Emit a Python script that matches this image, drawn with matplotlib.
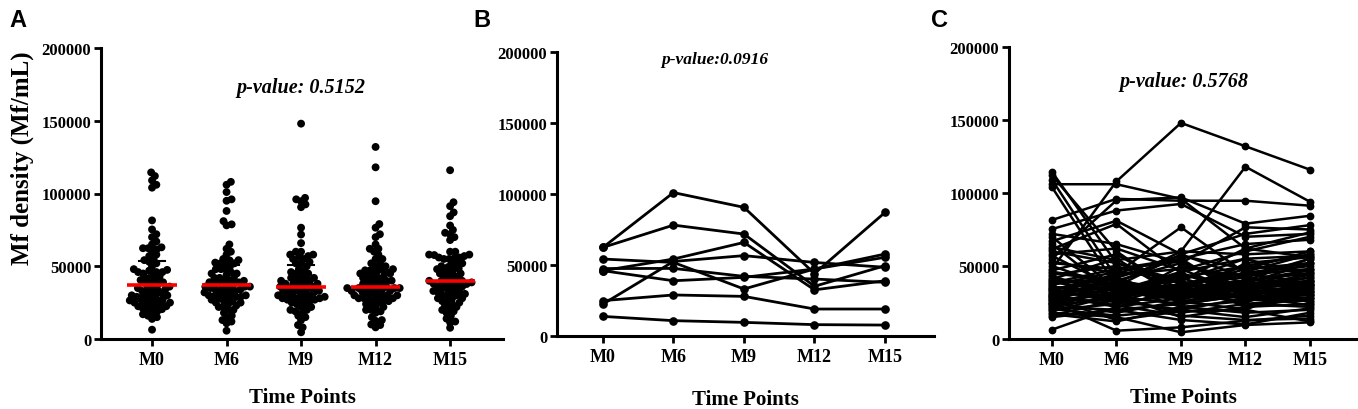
import numpy as np
import matplotlib
matplotlib.use("Agg")
import matplotlib.pyplot as plt

plt.rcParams['font.family'] = ['Liberation Serif', 'DejaVu Serif']
plt.rcParams['font.weight'] = 'bold'

categories = ["M0", "M6", "M9", "M12", "M15"]
ytick_values = [0, 50000, 100000, 150000, 200000]
ytick_labels = ["0", "50000", "100000", "150000", "200000"]

# Panel B: one entry per subject at each time point
b_m0 = [62400, 62400, 54200, 46000, 46000, 22500, 24900, 13800, 47500]
b_m6 = [101000, 78100, 51800, 54200, 38900, 52500, 28900, 10800, 47600]
b_m9 = [90600, 71800, 33100, 65900, 41300, 56600, 27900, 9600, 42000]
b_m12 = [44000, 35000, 47200, 32500, 47200, 51800, 19000, 8000, 40100]
b_m15 = [87000, 49500, 55400, 38900, 57700, 48400, 19000, 7700, 37800]

# Panel C: one entry per subject at each time point
c_m0 = [48000, 106000, 114500, 112000, 109000, 104000, 81500, 75300, 67000, 30000,
        40000, 61600, 55000, 6400, 25000, 18000, 72000, 63000, 58000, 52000,
        50000, 47000, 45000, 43000, 41000, 39000, 38000, 36000, 35000, 34000,
        33000, 32000, 31000, 30000, 29000, 28000, 27000, 26000, 25000, 24000,
        23000, 22000, 21000, 20000, 19000, 17000, 16000, 15000, 44000, 37000,
        33500, 28500, 26500, 24500, 22500, 20500, 31500, 35500, 40500, 46000,
        53000, 57000, 60000, 65000, 70000, 29500, 27500, 42000, 38500, 34500]
c_m6 = [108000, 106000, 52000, 60000, 42000, 36000, 96000, 88000, 81000, 45000,
        38000, 78800, 95000, 22000, 5700, 15000, 65000, 54000, 62000, 48000,
        35000, 58000, 40000, 30000, 55000, 33000, 42000, 28000, 38000, 25000,
        44000, 36000, 30000, 22000, 34000, 40000, 26000, 32000, 18000, 35000,
        28000, 20000, 37000, 24000, 30000, 12000, 27000, 20000, 50000, 46000,
        26000, 42000, 38000, 32000, 29000, 16000, 36000, 31000, 25000, 40000,
        45000, 35000, 52000, 30000, 34000, 23000, 13000, 33000, 48000, 39000]
c_m9 = [148000, 96000, 38000, 30000, 55000, 58000, 94700, 92500, 58000, 76500,
        60000, 45000, 97000, 35000, 8000, 4600, 52000, 60000, 47000, 55000,
        40000, 33000, 52000, 36000, 28000, 42000, 25000, 38000, 32000, 30000,
        48000, 22000, 35000, 28000, 40000, 33000, 20000, 45000, 26000, 30000,
        18000, 24000, 36000, 32000, 15000, 22000, 38000, 13000, 35000, 42000,
        50000, 27000, 34000, 29000, 24000, 20000, 31000, 44000, 38000, 30000,
        57000, 26000, 40000, 37000, 28000, 16000, 19000, 46000, 53000, 27000]
c_m12 = [132000, 62000, 45000, 35000, 28000, 72000, 94700, 70000, 42000, 45000,
         118000, 30000, 79000, 48000, 12500, 9600, 76500, 58000, 60000, 65000,
         55000, 40000, 38000, 50000, 32000, 28000, 36000, 42000, 25000, 34000,
         30000, 26000, 40000, 35000, 22000, 38000, 28000, 33000, 20000, 45000,
         24000, 30000, 27000, 36000, 22000, 18000, 32000, 10000, 28000, 50000,
         42000, 38000, 24000, 35000, 30000, 15000, 46000, 36000, 33000, 26000,
         48000, 30000, 62000, 44000, 52000, 13000, 20000, 55000, 34000, 40000]
c_m15 = [116000, 56000, 52000, 40000, 33000, 78000, 91300, 72000, 55000, 38000,
         94000, 28000, 84400, 52000, 16000, 11400, 75000, 60000, 70000, 68000,
         57000, 45000, 42000, 58000, 35000, 30000, 48000, 36000, 40000, 45000,
         38000, 32000, 55000, 42000, 28000, 25000, 34000, 30000, 38000, 50000,
         22000, 36000, 26000, 44000, 24000, 20000, 30000, 18000, 40000, 46000,
         33000, 52000, 28000, 37000, 26000, 21000, 58000, 32000, 40000, 35000,
         60000, 23000, 73000, 48000, 56000, 14000, 12000, 43000, 31000, 47000]

p_text_a = "p-value: 0.5152"
p_text_b = "p-value:0.0916"
p_text_c = "p-value: 0.5768"

b_cols = [b_m0, b_m6, b_m9, b_m12, b_m15]
c_cols = [c_m0, c_m6, c_m9, c_m12, c_m15]
a_cols = [list(b) + list(c) for b, c in zip(b_cols, c_cols)]

W, H = 1358, 410
fig = plt.figure(figsize=(W / 100, H / 100), dpi=100)


def px_axes(l, r, t, b):
    return fig.add_axes([l / W, 1 - b / H, (r - l) / W, (b - t) / H])


axA = px_axes(101, 503, 49, 340)
axB = px_axes(557, 934, 53, 337)
axC = px_axes(1009, 1357, 48, 340)

xlims = {axA: (-0.685, 4.71), axB: (-0.652, 4.695), axC: (-0.667, 4.73)}
label_pads = {axA: 13, axB: 17, axC: 13}

for ax in (axA, axB, axC):
    ax.set_xlim(*xlims[ax])
    ax.set_ylim(0, 200000)
    for s in ('top', 'right'):
        ax.spines[s].set_visible(False)
    for s in ('left', 'bottom'):
        ax.spines[s].set_linewidth(2.2)
    ax.set_xticks(range(len(categories)))
    ax.set_xticklabels(categories, fontsize=13, fontweight='bold')
    ax.set_yticks(ytick_values)
    ax.set_yticklabels(ytick_labels, fontsize=12, fontweight='bold')
    ax.tick_params(axis='both', width=2, length=5, direction='out', pad=2)
    ax.tick_params(axis='x', pad=4)
    ax.set_xlabel("Time Points", fontsize=15, fontweight='bold',
                  labelpad=label_pads[ax])


def swarm_offsets(values, ax, diam_px):
    bbox = ax.get_position()
    h_px = bbox.height * H
    w_px = bbox.width * W
    ylo, yhi = ax.get_ylim()
    xlo, xhi = ax.get_xlim()
    ypp = h_px / (yhi - ylo)
    xpp = w_px / (xhi - xlo)
    vals = np.asarray(values, dtype=float)
    order = np.argsort(vals)
    placed = []
    offs = np.zeros(len(vals))
    for idx in order:
        y = vals[idx] * ypp
        cands = [0.0]
        for (px, py) in placed:
            dy = y - py
            if abs(dy) < diam_px:
                dx = np.sqrt(diam_px ** 2 - dy ** 2)
                cands += [px + dx, px - dx]
        cands = sorted(cands, key=abs)
        for c in cands:
            ok = True
            for (px, py) in placed:
                if (c - px) ** 2 + (y - py) ** 2 < diam_px ** 2 - 1e-6:
                    ok = False
                    break
            if ok:
                placed.append((c, y))
                offs[idx] = c / xpp
                break
    return offs


# Panel A: swarm + median (red) + IQR (black)
for i, col in enumerate(a_cols):
    offs = swarm_offsets(col, axA, 5.2)
    axA.scatter(i + offs, col, s=32, color='black', edgecolors='none', zorder=3)
    q1, med, q3 = np.percentile(col, [25, 50, 75])
    axA.plot([i, i], [q1, q3], color='black', lw=1.5, zorder=4)
    for q in (q1, q3):
        axA.plot([i - 0.17, i + 0.17], [q, q], color='black', lw=1.5, zorder=4)
    axA.plot([i - 0.33, i + 0.33], [med, med], color='#ff0000', lw=2.6, zorder=5,
             solid_capstyle='butt')

# Panel B and C: subject lines
xs = np.arange(len(categories))
for subj in zip(*b_cols):
    axB.plot(xs, subj, color='black', lw=2.0, marker='o', ms=5.2, zorder=3)
for subj in zip(*c_cols):
    axC.plot(xs, subj, color='black', lw=1.8, marker='o', ms=4.6, zorder=3)

axA.text(2, 173000, p_text_a, ha='center', va='center', fontsize=14.5,
         fontweight='bold', fontstyle='italic')
axB.text(1.58, 195000, p_text_b, ha='center', va='center', fontsize=12.5,
         fontweight='bold', fontstyle='italic')
axC.text(2.05, 177000, p_text_c, ha='center', va='center', fontsize=14.5,
         fontweight='bold', fontstyle='italic')

fig.text(22 / W, 1 - 158 / H, "Mf density (Mf/mL)", rotation=90, ha='center',
         va='center', fontsize=18, fontweight='bold')

for lab, xp in (("A", 9), ("B", 473), ("C", 931)):
    fig.text(xp / W, 1 - 27 / H, lab, ha='left', va='baseline', fontsize=17,
             fontweight='bold', family=['Liberation Sans', 'DejaVu Sans'])

fig.savefig("out.png", dpi=100)
